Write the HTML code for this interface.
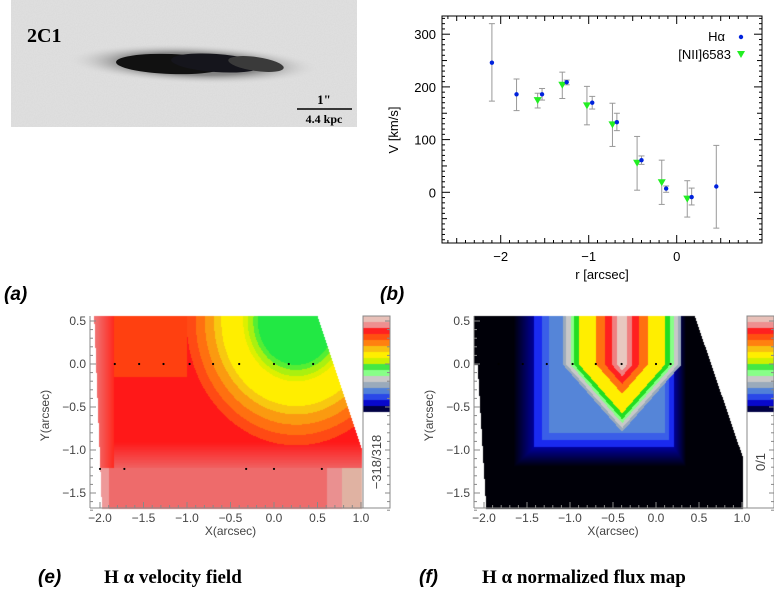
<!DOCTYPE html>
<html><head><meta charset="utf-8">
<style>
body{margin:0;background:#fff;width:774px;height:595px;overflow:hidden;position:relative;font-family:"Liberation Sans",sans-serif}
.abs{position:absolute}
.plab{font-family:"Liberation Sans",sans-serif;font-style:italic;font-weight:bold;font-size:19px}
.cap{font-family:"Liberation Serif",serif;font-weight:bold;font-size:19px}
</style></head><body>
<div class="abs" style="left:11px;top:0;width:346px;height:127px;background:#e2e2e2">
<svg width="346" height="127">
<defs>
<radialGradient id="halo" cx="50%" cy="50%" r="50%"><stop offset="0" stop-color="#555" /><stop offset="0.55" stop-color="#8a8a8a"/><stop offset="1" stop-color="#e2e2e2" stop-opacity="0"/></radialGradient>
<filter id="nz"><feTurbulence type="fractalNoise" baseFrequency="0.9" numOctaves="1" result="n"/><feColorMatrix type="matrix" values="0 0 0 0 0.5  0 0 0 0 0.5  0 0 0 0 0.5  0 0 0 0.25 0"/></filter>
</defs>
<rect width="346" height="127" filter="url(#nz)"/>
<ellipse cx="182" cy="64" rx="128" ry="20" fill="url(#halo)" transform="rotate(2 182 64)"/>
<ellipse cx="160" cy="64" rx="55" ry="10" fill="#111" transform="rotate(2 160 64)"/>
<ellipse cx="205" cy="63" rx="45" ry="9" fill="#15151c" transform="rotate(4 205 63)"/>
<ellipse cx="245" cy="64" rx="28" ry="7" fill="#3a3a3a" transform="rotate(8 245 64)"/>
<text x="16" y="42" font-family="Liberation Serif" font-weight="bold" font-size="20">2C1</text>
<line x1="286" y1="109" x2="341" y2="109" stroke="#000" stroke-width="1.5"/>
<text x="313" y="104" text-anchor="middle" font-family="Liberation Serif" font-weight="bold" font-size="13">1"</text>
<text x="313" y="123" text-anchor="middle" font-family="Liberation Serif" font-weight="bold" font-size="12">4.4 kpc</text>
</svg></div>

<svg id="rc" class="abs" style="left:0;top:0" width="774" height="300"></svg>

<div class="abs plab" style="left:4px;top:284px">(a)</div>
<div class="abs plab" style="left:380px;top:284px">(b)</div>

<canvas id="cE" class="abs" width="774" height="595" style="left:0;top:0"></canvas>
<svg id="ax" class="abs" style="left:0;top:0" width="774" height="595"></svg>

<div class="abs plab" style="left:38px;top:567px">(e)</div>
<div class="abs cap" style="left:104px;top:567px">H α velocity field</div>
<div class="abs plab" style="left:419px;top:567px">(f)</div>
<div class="abs cap" style="left:482px;top:567px">H α normalized flux map</div>

<script>
const haR=[-2.1,-1.82,-1.53,-1.25,-0.96,-0.68,-0.4,-0.12,0.17,0.45];
const haV=[246,186,186,209,170,133,61,7,-9,11];
const haLo=[173,155,175,204,158,117,53,0,-24,-68];
const haHi=[320,215,197,213,182,150,69,12,8,89];
const niR=[-1.58,-1.3,-1.02,-0.73,-0.45,-0.17,0.12];
const niV=[175,204,165,129,56,19,-12];
const niLo=[160,178,128,87,4,-23,-47];
const niHi=[188,228,201,169,106,61,22];
const xTicks=[-2,-1,0];
const yTicks=[0,100,200,300];

const NS='http://www.w3.org/2000/svg';
function mk(p,t,a){const e=document.createElementNS(NS,t);for(const k in a)e.setAttribute(k,a[k]);p.appendChild(e);return e;}
const rc=document.getElementById('rc');
const L=442,R=762,T=16,B=243;
const sx=v=>676.7+v*88, sy=v=>192.3-v*0.527;
let fr=mk(rc,'rect',{x:L,y:T,width:R-L,height:B-T,fill:'none',stroke:'#000','stroke-width':1});

for(let v=-2.6;v<=0.9;v+=0.1){const x=sx(v);if(x<L||x>R)continue;const big=Math.abs(v*2-Math.round(v*2))<0.01;const len=Math.abs(v-Math.round(v))<0.01?8:(big?5:3);
mk(rc,'line',{x1:x,y1:B,x2:x,y2:B-len,stroke:'#000'});mk(rc,'line',{x1:x,y1:T,x2:x,y2:T+len,stroke:'#000'});}
for(let v=-100;v<=340;v+=10){const y=sy(v);if(y<T||y>B)continue;const len=v%100==0?8:(v%50==0?5:3);
mk(rc,'line',{x1:L,y1:y,x2:L+len,y2:y,stroke:'#000'});mk(rc,'line',{x1:R,y1:y,x2:R-len,y2:y,stroke:'#000'});}
xTicks.forEach(v=>{const t=mk(rc,'text',{x:sx(v),y:B+18,'text-anchor':'middle','font-size':13,fill:'#000'});t.textContent=v==0?'0':'\u2212'+Math.abs(v);
});
yTicks.forEach(v=>{const t=mk(rc,'text',{x:L-6,y:sy(v)+5,'text-anchor':'end','font-size':13,fill:'#000'});t.textContent=v;
});
let xt=mk(rc,'text',{x:602,y:279,'text-anchor':'middle','font-size':13});xt.textContent='r [arcsec]';

let yt=mk(rc,'text',{x:0,y:0,'text-anchor':'middle','font-size':13,transform:'translate(398,130) rotate(-90)'});yt.textContent='V [km/s]';

function eb(r,lo,hi){const x=sx(r);mk(rc,'line',{x1:x,y1:sy(lo),x2:x,y2:sy(hi),stroke:'#999'});
mk(rc,'line',{x1:x-3,y1:sy(lo),x2:x+3,y2:sy(lo),stroke:'#999'});mk(rc,'line',{x1:x-3,y1:sy(hi),x2:x+3,y2:sy(hi),stroke:'#999'});}
niR.forEach((r,i)=>eb(r,niLo[i],niHi[i]));
haR.forEach((r,i)=>eb(r,haLo[i],haHi[i]));
niR.forEach((r,i)=>{const x=sx(r),y=sy(niV[i]);const p=mk(rc,'polygon',{points:`${x-4},${y-3} ${x+4},${y-3} ${x},${y+4}`,fill:'#22ee22'});
});
haR.forEach((r,i)=>{const c=mk(rc,'circle',{cx:sx(r),cy:sy(haV[i]),r:2.2,fill:'#0022dd'});
});
let l1=mk(rc,'text',{x:725,y:41,'text-anchor':'end','font-size':13});l1.textContent='Hα';

mk(rc,'circle',{cx:741,cy:37,r:2.2,fill:'#0022dd'});
let l2=mk(rc,'text',{x:731,y:59,'text-anchor':'end','font-size':13});l2.textContent='[NII]6583';

mk(rc,'polygon',{points:'737,51 745,51 741,58',fill:'#22ee22'});

// maps
const cv=document.getElementById('cE').getContext('2d');
const img=cv.createImageData(774,595);
function put(x,y,c){const i=(y*774+x)*4;img.data[i]=c[0];img.data[i+1]=c[1];img.data[i+2]=c[2];img.data[i+3]=255;}
function hex(h){return [parseInt(h.substr(1,2),16),parseInt(h.substr(3,2),16),parseInt(h.substr(5,2),16)];}
function mix(a,b,t){return [0,1,2].map(i=>Math.round(a[i]+(b[i]-a[i])*t));}
const PE={x0:100,x1:361,y0:321,y1:493}, PF={x0:484,x1:742,y0:321,y1:493};
function toX(P,px){return -2+(px-P.x0)/(P.x1-P.x0)*3;} function toY(P,py){return 0.5-(py-P.y0)/(P.y1-P.y0)*2;}
function colE(x,y){
 if(y<-1.2){ if(x>0.78) return hex('#e0b2a2'); if(x>0.6) return hex('#ea9090'); if(x<-1.9) return hex('#ee9999'); return hex('#ee6b6b');}
 const d=Math.sqrt(((x-0.25)/1.05)**2+((y-0.5)/1.2)**2);
 if(d<0.42) return hex('#22e844'); if(d<0.47) return hex('#55ee33'); if(d<0.53) return hex('#aaf010'); if(d<0.58) return hex('#ddf000');
 if(d<0.82) return hex('#ffee00'); if(d<0.9) return hex('#f8c810'); if(d<1.0) return hex('#fb9a10'); if(d<1.1) return hex('#ff7010');
 if(d<1.2) return hex('#ff4a14');
 if(x<-1.85){const t=Math.min(1,(-1.85-x)/0.2);return mix(hex('#ff2a20'),hex('#f07070'),t);}
 if(y>-0.15&&x<-1.0&&x>-1.85) return hex('#ff4010');
 if(y<-0.9){const t=Math.min(1,(-0.9-y)/0.3);return mix(hex('#ff1818'),hex('#f06060'),t);}
 return hex('#ff1818');}
function colF(x,y){
 const dx=Math.abs(x+0.4); const a=dx+0.88*Math.max(0,-y);
 if(a<0.06) return hex('#e8c8c0'); if(a<0.12) return hex('#f08080'); if(a<0.2) return hex('#ff2020'); if(a<0.3) return hex('#ff7010');
 if(a<0.5) return hex('#ffee00'); if(a<0.56) return hex('#22dd22'); if(a<0.6) return hex('#88ff88'); if(a<0.65) return hex('#c8c8c8');
 if(a<0.69) return hex('#9aaabb');
 const o=Math.max((x<-0.4? dx/0.85 : dx/0.5),(-y)/0.8);
 if(o<1.0) return hex('#5585d8'); if(o<1.1) return hex('#3a5ee8'); if(o<1.2) return hex('#1a2af0');
 const k=Math.max(0,1-(o-1.2)*3.5); return [0,0,Math.round(8+k*150)];}
function fill(P,fn,left,right){
 for(let py=P.y0-5;py<=P.y1+15;py++)for(let px=P.x0-10;px<=P.x1;px++){
  const x=toX(P,px),y=toY(P,py); if(y>0.56||y<-1.72||x<-2.12) continue;
  if(left(x,y)||right(x,y)) continue; put(px,py,fn(x,y));}}
fill(PE,colE,(x,y)=>x< -2.07+ (0.5-y)*0.04 , (x,y)=>x> 0.5+(0.55-y)*0.33);
fill(PF,colF,(x,y)=>y< 0 && x< -2.1+(-y)*0.06+0.02, (x,y)=>x>0.45+(0.55-y)*0.34);
const barE=['#e8c0b8','#ee9090','#ff2020','#ff5010','#ff8010','#f8c010','#ffee00','#ccf000','#44e844','#88ff88','#c8c8c8','#9aaabb','#5080d8','#2a48e8','#0808cc','#000044'];
function cbar(x0,vals){for(let py=316;py<412;py++){const c=hex(vals[Math.floor((py-316)/96*vals.length)]);for(let px=x0;px<x0+27;px++)put(px,py,c);}}
cbar(363,barE); cbar(747,barE);
cv.putImageData(img,0,0);

const ax=document.getElementById('ax');
const dataXE=[-1.83,-1.55,-1.27,-0.97,-0.7,-0.4,0,0.17,0.45], dataXF=[-1.83,-1.55,-1.27,-0.97,-0.7,-0.4,0,0.17];
function axes(P,cbX,lab,dots){
 const sX=v=>P.x0+(v+2)/3*(P.x1-P.x0), sY=v=>P.y0+(0.5-v)/2*(P.y1-P.y0);
 const L=P.x0-10,T=316,B=508;
 mk(ax,'line',{x1:L,y1:T,x2:L,y2:B,stroke:'#888'});mk(ax,'line',{x1:L,y1:B,x2:cbX,y2:B,stroke:'#888'});
 mk(ax,'rect',{x:cbX,y:T,width:27,height:B-T,fill:'none',stroke:'#888'});
 for(let v=-2;v<=1.01;v+=0.1){const x=sX(v);const big=Math.abs(v*2-Math.round(v*2))<0.01;mk(ax,'line',{x1:x,y1:B,x2:x,y2:B-(big?6:3),stroke:'#888'});
  if(big){const t=mk(ax,'text',{x:x,y:B+14,'text-anchor':'middle','font-size':12,fill:'#444'});t.textContent=(v<-0.01?'\u2212':'')+Math.abs(v).toFixed(1);
  }}
 for(let v=-1.7;v<=0.51;v+=0.1){const y=sY(v);const big=Math.abs(v*2-Math.round(v*2))<0.01;mk(ax,'line',{x1:L,y1:y,x2:L+(big?6:3),y2:y,stroke:'#888'});
  mk(ax,'line',{x1:cbX+27,y1:y,x2:cbX+27-(big?5:3),y2:y,stroke:'#888'});
  if(big){const t=mk(ax,'text',{x:L-4,y:y+4,'text-anchor':'end','font-size':12,fill:'#444'});t.textContent=(v<-0.01?'\u2212':'')+Math.abs(v).toFixed(1);
  }}
 const xt=mk(ax,'text',{x:sX(-0.5),y:B+27,'text-anchor':'middle','font-size':12,fill:'#444'});xt.textContent='X(arcsec)';
 
 const yt=mk(ax,'text',{x:0,y:0,'text-anchor':'middle','font-size':12,fill:'#444',transform:`translate(${L-41},${sY(-0.6)}) rotate(-90)`});yt.textContent='Y(arcsec)';
 
 const cl=mk(ax,'text',{x:0,y:0,'text-anchor':'middle','font-size':13,fill:'#444',transform:`translate(${cbX+18},${462}) rotate(-90)`});cl.textContent=lab;
 
 dots.forEach(v=>{mk(ax,'circle',{cx:sX(v),cy:sY(0),r:1.1,fill:'#000'});});
}
axes(PE,363,'\u2212318/318',dataXE);
axes(PF,747,'0/1',dataXF);
[-2,-1.72,-0.32,0,0.55].forEach(v=>mk(ax,'circle',{cx:PE.x0+(v+2)/3*(PE.x1-PE.x0),cy:PE.y0+(1.72)/2*(PE.y1-PE.y0),r:1.1,fill:'#000'}));
</script>
</body></html>
